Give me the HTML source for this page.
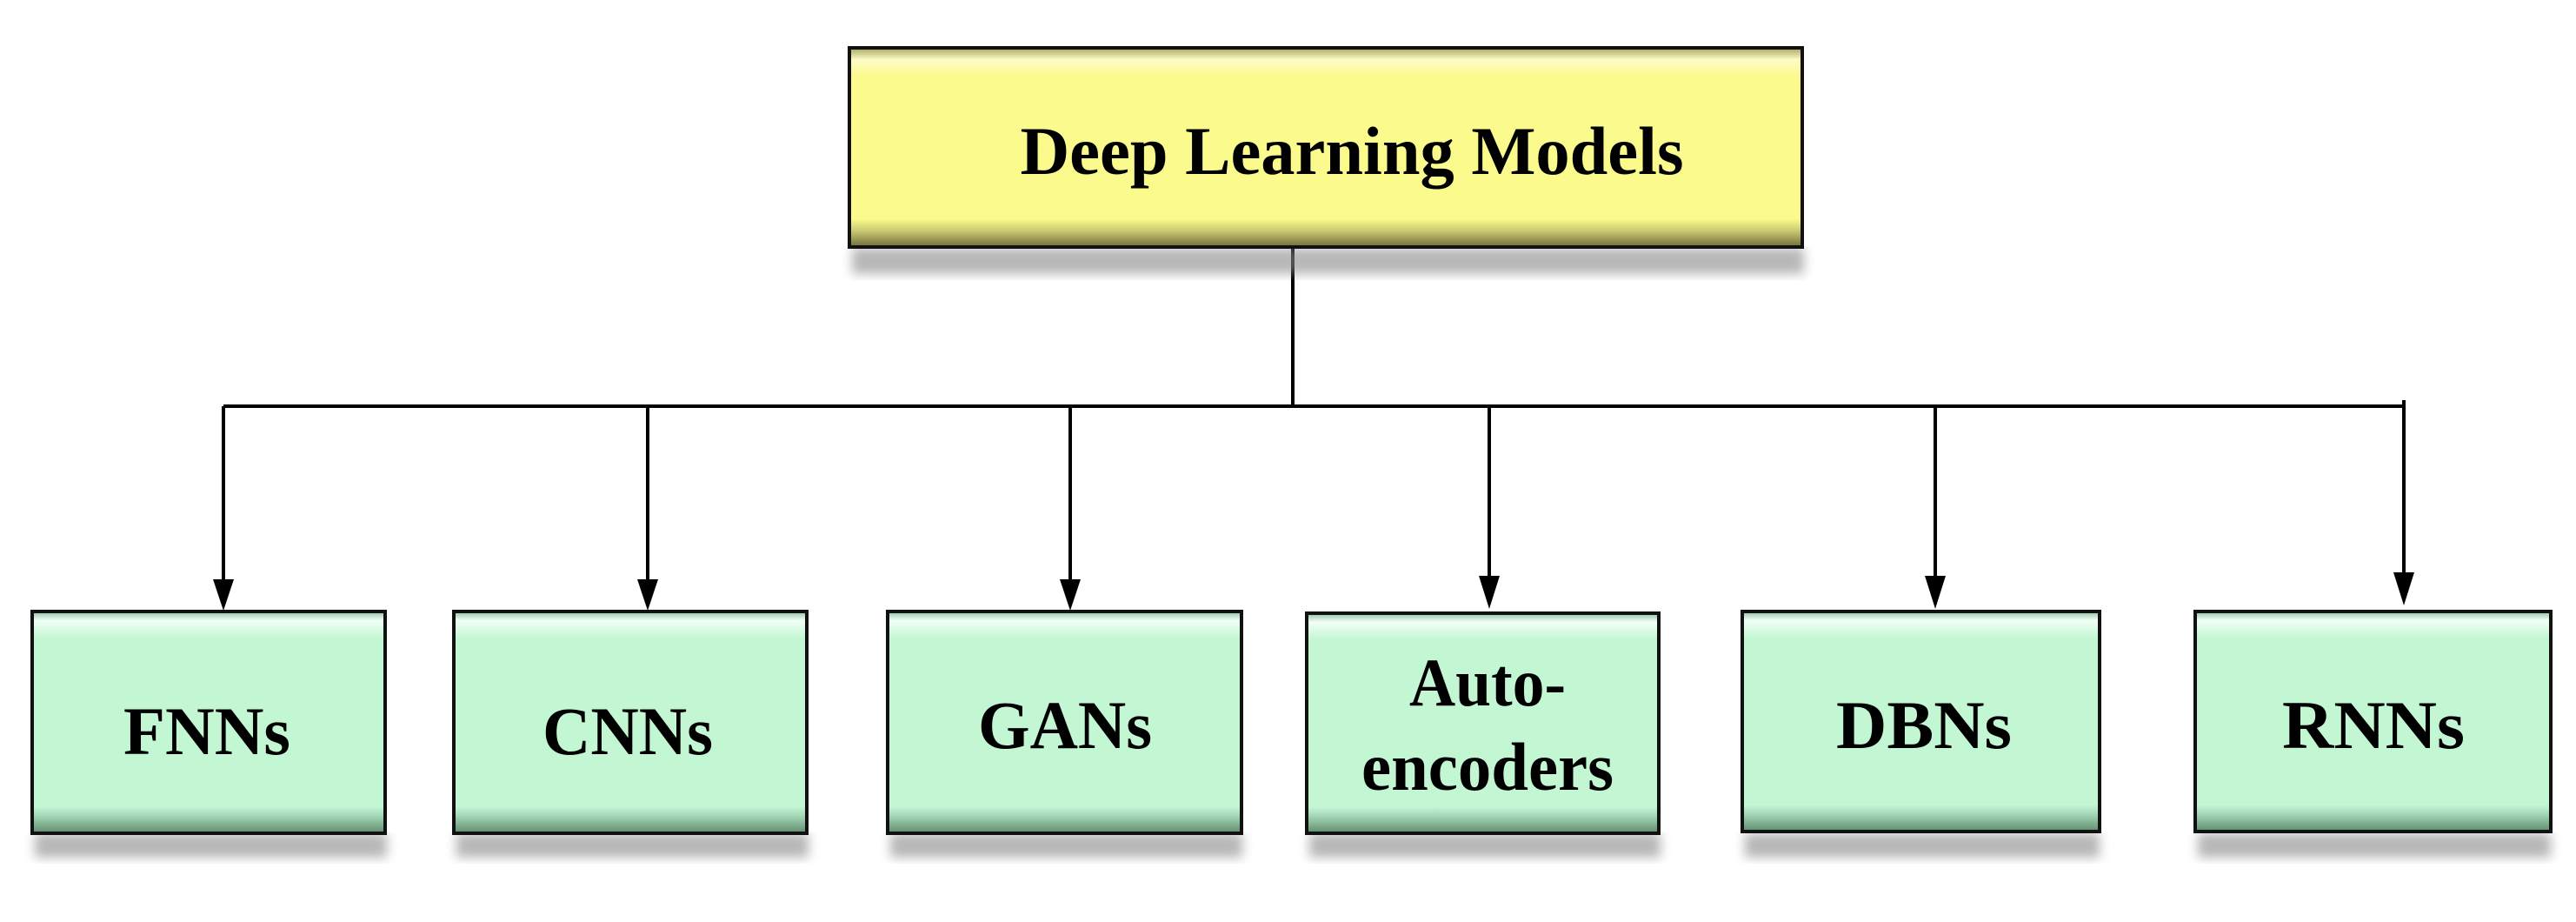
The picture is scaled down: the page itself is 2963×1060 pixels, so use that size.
<!DOCTYPE html>
<html><head><meta charset="utf-8"><style>html,body{margin:0;padding:0;background:#fff}svg{display:block}</style></head>
<body>
<svg width="2963" height="1060" viewBox="0 0 2963 1060" xmlns="http://www.w3.org/2000/svg" font-family="Liberation Serif, serif" font-weight="bold">
<defs>
<linearGradient id="gv" x1="0" y1="0" x2="0" y2="1">
<stop offset="0" stop-color="#8fbf9f"/><stop offset="0.04" stop-color="#f2fff6"/><stop offset="0.12" stop-color="#c3f7d4"/><stop offset="0.88" stop-color="#c3f7d4"/><stop offset="0.93" stop-color="#9ccfae"/><stop offset="1" stop-color="#5f8a6d"/></linearGradient>
<linearGradient id="yv" x1="0" y1="0" x2="0" y2="1">
<stop offset="0" stop-color="#a5a35a"/><stop offset="0.06" stop-color="#fdfdc8"/><stop offset="0.14" stop-color="#fbfa8c"/><stop offset="0.86" stop-color="#fbfa8c"/><stop offset="0.92" stop-color="#c9c771"/><stop offset="1" stop-color="#6e6c3c"/></linearGradient>
<filter id="sh" x="-5%" y="-5%" width="110%" height="130%"><feGaussianBlur stdDeviation="6"/></filter>
</defs>
<!-- connectors -->
<g stroke="#000" stroke-width="4" fill="none">
<line x1="1487" y1="283" x2="1487" y2="467"/>
<line x1="257" y1="467" x2="2767" y2="467"/>
<line x1="2765" y1="460" x2="2765" y2="467"/>
<line x1="257" y1="467" x2="257" y2="668"/>
<line x1="745" y1="467" x2="745" y2="668"/>
<line x1="1231" y1="467" x2="1231" y2="668"/>
<line x1="1713" y1="467" x2="1713" y2="664"/>
<line x1="2226" y1="467" x2="2226" y2="664"/>
<line x1="2765" y1="467" x2="2765" y2="660"/>
</g>
<g fill="#000">
<polygon points="245,666 269,666 257,702"/>
<polygon points="733,666 757,666 745,702"/>
<polygon points="1219,666 1243,666 1231,702"/>
<polygon points="1701,662 1725,662 1713,700"/>
<polygon points="2214,662 2238,662 2226,700"/>
<polygon points="2753,658 2777,658 2765,696"/>
</g>
<!-- top box -->
<rect x="980" y="285" width="1095" height="30" fill="#888" opacity="0.6" filter="url(#sh)"/>
<rect x="977" y="55" width="1096" height="229" fill="url(#yv)" stroke="#111" stroke-width="4"/>
<text x="1555" y="200" font-size="78" text-anchor="middle" textLength="763" lengthAdjust="spacingAndGlyphs">Deep Learning  Models</text>
<!-- child boxes -->
<g>
<rect x="40" y="958" width="405" height="28" fill="#888" opacity="0.6" filter="url(#sh)"/>
<rect x="37" y="703" width="406" height="255" fill="url(#gv)" stroke="#111" stroke-width="4"/>
<rect x="525" y="958" width="405" height="28" fill="#888" opacity="0.6" filter="url(#sh)"/>
<rect x="522" y="703" width="406" height="255" fill="url(#gv)" stroke="#111" stroke-width="4"/>
<rect x="1024" y="958" width="405" height="28" fill="#888" opacity="0.6" filter="url(#sh)"/>
<rect x="1021" y="703" width="407" height="255" fill="url(#gv)" stroke="#111" stroke-width="4"/>
<rect x="1506" y="958" width="404" height="28" fill="#888" opacity="0.6" filter="url(#sh)"/>
<rect x="1503" y="705" width="405" height="253" fill="url(#gv)" stroke="#111" stroke-width="4"/>
<rect x="2007" y="958" width="408" height="28" fill="#888" opacity="0.6" filter="url(#sh)"/>
<rect x="2004" y="703" width="411" height="253" fill="url(#gv)" stroke="#111" stroke-width="4"/>
<rect x="2528" y="958" width="406" height="28" fill="#888" opacity="0.6" filter="url(#sh)"/>
<rect x="2525" y="703" width="409" height="253" fill="url(#gv)" stroke="#111" stroke-width="4"/>
</g>
<g font-size="78" text-anchor="middle" fill="#000">
<text x="238" y="867" textLength="192" lengthAdjust="spacingAndGlyphs">FNNs</text>
<text x="722" y="867" textLength="196" lengthAdjust="spacingAndGlyphs">CNNs</text>
<text x="1225" y="860" textLength="200" lengthAdjust="spacingAndGlyphs">GANs</text>
<text x="1711" y="811" textLength="180" lengthAdjust="spacingAndGlyphs">Auto-</text>
<text x="1711" y="908" textLength="290" lengthAdjust="spacingAndGlyphs">encoders</text>
<text x="2213" y="860" textLength="202" lengthAdjust="spacingAndGlyphs">DBNs</text>
<text x="2730" y="860" textLength="210" lengthAdjust="spacingAndGlyphs">RNNs</text>
</g>
</svg>
</body></html>
